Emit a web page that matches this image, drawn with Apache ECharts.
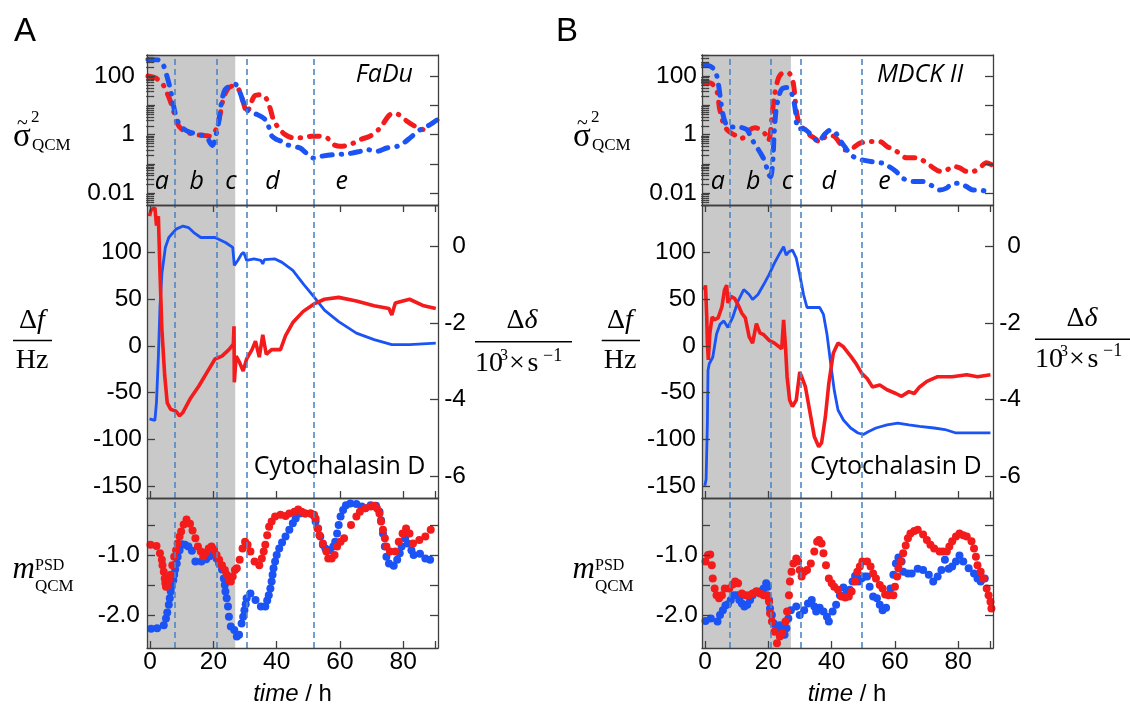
<!DOCTYPE html>
<html>
<head>
<meta charset="utf-8">
<script src="https://cdn.jsdelivr.net/npm/echarts@6/dist/echarts.min.js"></script>
<style>
  html, body { margin: 0; padding: 0; background: #fff; }
  #chart { width: 1130px; height: 711px; }
</style>
</head>
<body>
<div id="chart"></div>
<script>
// ---- shared ticks ----
const timeTicks = [0, 20, 40, 60, 80];
const timeTickMarks = [0, 20, 40, 60, 80, 90];
const phaseLetters = ['a', 'b', 'c', 'd', 'e'];
const varTickExp = [-2, -1, 0, 1, 2];      // decades on the variance axis
const varLabelExp = [-2, 0, 2];
const dfTicks = [-150, -100, -50, 0, 50, 100];
const ddTicks = [-6, -4, -2, 0];
const psdTicks = [-2, -1.5, -1, -0.5];
const psdLabels = [-2, -1];

// ---- FaDu (panel A) ----
const fadu_treatEnd = 26.9;
const fadu_phaseBounds = [7.7, 21.0, 30.4, 51.8];
// normalised variance, [time h, value]
const fadu_varBlue = [[-0.7,372],[2.7,355],[4.3,219],[5.3,100],[6.4,34.7],[7.2,12.3],[8.0,4.9],[9.0,2.51],[10.6,1.58],[12.7,1.20],[15.9,1.00],[18.0,0.78],[19.0,0.52],[19.7,0.43],[20.6,0.78],[21.6,2.51],[22.7,15.8],[23.7,34.7],[25.3,45.7],[26.9,52.5],[28.0,34.7],[29.0,18.2],[30.1,8.3],[31.1,6.3],[33.8,4.9],[36.4,3.3],[37.4,1.95],[38.5,0.89],[40.1,0.68],[41.6,0.59],[43.2,0.46],[45.3,0.40],[47.4,0.35],[49.5,0.23],[51.6,0.16],[53.7,0.18],[58.0,0.21],[62.2,0.22],[66.4,0.27],[68.5,0.31],[71.6,0.27],[74.8,0.35],[78.0,0.40],[80.1,0.52],[82.2,0.78],[85.4,1.48],[88.5,2.19],[90.8,3.24]];
const fadu_varRed = [[-0.7,100],[1.6,87],[3.7,59],[5.3,27],[6.4,13.8],[7.4,6.3],[8.5,2.51],[10.1,1.48],[12.2,1.15],[14.8,1.00],[17.4,0.93],[19.0,0.89],[20.1,1.15],[21.1,1.70],[22.2,5.5],[23.2,18.2],[24.8,39.8],[26.4,45.7],[28.0,34.7],[29.0,18.2],[29.8,9.3],[30.6,5.5],[31.7,10.7],[33.2,21.9],[35.3,23.4],[36.9,15.8],[37.9,8.1],[39.0,3.24],[40.6,1.70],[42.7,1.00],[45.3,0.78],[48.5,0.78],[51.1,0.89],[53.2,0.89],[55.9,0.78],[58.0,0.46],[60.1,0.40],[63.2,0.46],[66.4,0.68],[69.5,0.89],[72.7,1.70],[75.3,4.27],[76.9,5.5],[78.5,4.9],[81.2,2.88],[83.7,1.95],[86.4,1.48],[89.0,1.38]];
// frequency shift (Hz) and dissipation shift (10^3 s^-1)
const fadu_dfRed = [[-0.2,139],[0.3,146],[1.5,148],[2.0,129],[2.6,139],[3.1,79],[3.7,18],[4.6,-32],[5.4,-61],[6.5,-68],[8.2,-70],[9.3,-75],[10.4,-71],[12.6,-57],[15.4,-43],[18.2,-27],[20.5,-14],[22.7,-11],[24.9,-4],[26.3,2],[26.5,21],[26.6,-39],[27.2,-11],[28.3,-18],[29.4,-27],[30.5,-14],[32.2,-4],[33.3,5],[34.5,-12],[35.6,12],[36.7,-9],[38.4,-4],[41.2,-4],[42.8,11],[45.1,25],[48.4,37],[51.8,45],[55.1,50],[59.6,52],[65.2,48],[70.8,43],[75.5,40],[76.4,33],[77.5,46],[82.0,50],[86.5,43],[90.3,40]];
const fadu_ddBlue = [[-0.2,-4.50],[1.5,-4.54],[2.0,-4.07],[2.6,-2.86],[3.1,-1.57],[3.7,-0.71],[4.8,-0.02],[5.9,0.24],[8.2,0.46],[10.4,0.54],[12.1,0.50],[13.8,0.37],[16.0,0.24],[20.5,0.24],[23.8,0.11],[26.1,-0.02],[26.6,-0.49],[27.7,-0.36],[28.9,-0.19],[29.6,-0.15],[30.5,-0.36],[32.8,-0.32],[35.0,-0.36],[35.6,-0.45],[36.1,-0.34],[39.5,-0.32],[41.7,-0.41],[45.1,-0.62],[48.4,-0.97],[51.8,-1.31],[55.1,-1.66],[59.6,-1.96],[65.2,-2.26],[70.8,-2.43],[76.4,-2.56],[82.0,-2.56],[90.3,-2.52]];
// PSD slope
const fadu_psdBlue = [[0.3,-2.23],[2.2,-2.22],[4.3,-2.17],[5.0,-2.06],[5.4,-1.96],[5.9,-1.83],[6.2,-1.72],[6.5,-1.61],[6.8,-1.52],[7.3,-1.42],[7.6,-1.33],[7.9,-1.24],[8.4,-1.14],[8.7,-1.03],[9.3,-0.92],[10.1,-0.82],[11.0,-0.83],[12.1,-0.86],[13.2,-0.93],[14.3,-1.11],[16.2,-1.11],[17.7,-1.07],[18.8,-1.02],[19.9,-0.94],[21.0,-1.06],[21.8,-1.14],[22.7,-1.24],[23.3,-1.39],[23.6,-1.50],[23.8,-1.61],[24.2,-1.72],[24.6,-1.86],[24.9,-2.03],[25.5,-2.19],[26.6,-2.25],[27.4,-2.36],[28.1,-2.33],[28.9,-2.14],[29.4,-2.03],[29.8,-1.92],[30.2,-1.82],[30.5,-1.72],[31.7,-1.64],[33.3,-1.75],[35.0,-1.86],[36.4,-1.86],[37.0,-1.76],[37.5,-1.67],[38.0,-1.56],[38.4,-1.44],[38.7,-1.33],[39.0,-1.22],[39.5,-1.11],[40.0,-1.00],[40.8,-0.89],[41.7,-0.79],[42.8,-0.69],[44.0,-0.58],[45.1,-0.47],[46.0,-0.39],[47.3,-0.31],[49.0,-0.31],[50.7,-0.31],[51.8,-0.35],[52.3,-0.44],[53.1,-0.56],[53.8,-0.69],[54.6,-0.83],[55.4,-0.89],[56.8,-0.92],[57.9,-0.86],[58.5,-0.78],[59.1,-0.64],[59.6,-0.50],[60.2,-0.36],[61.0,-0.25],[61.9,-0.17],[63.3,-0.14],[65.2,-0.15],[66.9,-0.19],[68.0,-0.22],[69.7,-0.17],[71.4,-0.18],[72.5,-0.28],[73.0,-0.42],[73.6,-0.64],[74.2,-0.86],[74.7,-1.03],[75.5,-1.14],[77.0,-1.18],[78.1,-1.08],[78.9,-0.97],[79.5,-0.86],[80.6,-0.72],[81.4,-0.81],[82.6,-0.92],[83.3,-1.00],[85.3,-0.98],[87.0,-1.06],[88.5,-1.08]];
const fadu_psdRed = [[0.1,-0.83],[2.0,-0.85],[3.1,-0.97],[3.7,-1.08],[3.9,-1.17],[4.3,-1.28],[4.6,-1.39],[4.8,-1.47],[5.0,-1.53],[5.4,-1.52],[5.9,-1.42],[6.5,-1.33],[7.0,-1.17],[7.6,-1.03],[8.2,-0.92],[8.7,-0.81],[9.3,-0.69],[9.8,-0.61],[10.6,-0.49],[11.5,-0.41],[12.6,-0.48],[13.4,-0.59],[14.3,-0.72],[15.1,-0.86],[16.0,-0.94],[16.8,-1.02],[17.7,-0.96],[18.5,-0.89],[19.4,-0.86],[20.2,-0.91],[21.0,-1.00],[21.8,-1.08],[22.7,-1.17],[23.6,-1.25],[24.2,-1.33],[24.9,-1.42],[25.5,-1.44],[26.1,-1.36],[26.8,-1.25],[27.4,-1.22],[28.3,-1.08],[29.2,-0.89],[30.0,-0.78],[30.8,-0.83],[31.7,-0.94],[33.0,-1.11],[34.5,-1.17],[35.3,-1.06],[35.9,-0.94],[36.4,-0.83],[37.0,-0.67],[37.6,-0.53],[38.4,-0.44],[39.5,-0.36],[41.2,-0.33],[42.8,-0.35],[44.0,-0.31],[45.6,-0.28],[46.8,-0.24],[47.9,-0.28],[49.0,-0.31],[50.7,-0.31],[51.8,-0.33],[52.3,-0.39],[52.9,-0.56],[53.5,-0.67],[54.6,-0.81],[55.7,-0.94],[56.3,-1.06],[57.4,-1.06],[58.3,-1.00],[59.1,-0.86],[60.2,-0.78],[61.3,-0.72],[63.5,-0.50],[65.2,-0.36],[66.3,-0.28],[68.0,-0.22],[69.7,-0.19],[70.8,-0.18],[71.7,-0.22],[72.5,-0.31],[73.0,-0.44],[73.6,-0.58],[74.2,-0.72],[74.7,-0.86],[75.8,-0.94],[77.5,-0.94],[78.6,-0.78],[79.8,-0.64],[80.9,-0.56],[82.0,-0.64],[83.1,-0.81],[85.1,-0.75],[87.0,-0.69],[88.7,-0.58]];

// ---- MDCK II (panel B) ----
const mdck_treatEnd = 27.1;
const mdck_phaseBounds = [7.7, 20.8, 30.3, 49.5];
const mdck_varBlue = [[-0.5,245],[1.6,219],[3.2,148],[4.2,52],[4.9,14.5],[5.6,5.1],[6.3,2.7],[7.4,1.82],[9.5,1.82],[11.6,1.74],[13.2,1.48],[14.2,0.95],[15.3,0.56],[16.3,0.38],[17.9,0.20],[18.9,0.12],[19.5,0.071],[20.1,0.043],[20.7,0.037],[21.4,0.135],[21.8,1.07],[22.4,6.6],[23.2,18.6],[24.2,35.5],[25.8,40.7],[26.8,35.5],[27.9,16.2],[28.6,5.8],[28.9,2.34],[29.5,1.58],[31.1,1.58],[32.6,1.23],[34.2,0.83],[35.8,0.56],[36.8,0.74],[37.9,1.07],[39.5,1.41],[41.1,1.23],[42.6,0.65],[44.2,0.38],[45.8,0.22],[47.9,0.155],[50.0,0.135],[53.2,0.117],[56.3,0.105],[58.4,0.079],[60.5,0.054],[62.6,0.032],[65.8,0.025],[68.9,0.025],[72.1,0.017],[74.2,0.013],[76.3,0.015],[78.4,0.022],[80.5,0.022],[82.6,0.017],[84.7,0.013],[86.8,0.013],[88.9,0.0115],[90.5,0.010]];
const mdck_varRed = [[-0.5,60],[2.1,55],[3.7,31],[4.5,8.5],[5.3,3.5],[6.3,1.78],[7.9,1.20],[9.5,0.95],[11.1,0.74],[12.6,0.85],[14.2,1.48],[15.8,1.74],[17.4,1.48],[18.9,1.07],[20.0,0.63],[20.5,0.93],[21.1,3.8],[21.8,18.2],[23.2,87],[24.7,129],[26.3,129],[27.7,68],[28.4,18.2],[28.9,5.8],[29.8,2.29],[31.1,1.58],[33.2,0.95],[34.7,0.74],[36.3,0.56],[37.9,0.83],[39.5,0.95],[41.1,0.83],[42.6,0.50],[44.2,0.30],[45.8,0.30],[47.4,0.40],[48.9,0.51],[52.1,0.58],[55.3,0.58],[57.4,0.40],[60.5,0.27],[63.7,0.162],[66.8,0.162],[70.0,0.11],[72.1,0.074],[74.2,0.056],[76.3,0.062],[78.4,0.083],[80.5,0.074],[82.6,0.056],[84.7,0.056],[86.8,0.074],[88.9,0.11],[90.5,0.095]];
const mdck_dfRed = [[-0.2,60],[0.1,65],[0.5,31],[0.7,3],[1.0,-15],[1.5,14],[2.2,31],[3.0,28],[4.1,30],[5.3,42],[6.1,60],[6.8,65],[7.2,46],[8.1,53],[9.3,51],[10.4,44],[11.6,35],[12.7,30],[13.9,10],[15.0,3],[16.2,24],[17.3,14],[18.5,12],[20.2,6],[21.9,3],[24.2,-3],[24.8,28],[25.4,-1],[25.9,-33],[26.7,-58],[27.6,-65],[28.8,-58],[29.9,-28],[30.5,-33],[31.7,-44],[33.4,-76],[34.5,-97],[35.9,-108],[36.8,-104],[38.0,-76],[39.1,-40],[40.5,-8],[42.0,3],[43.7,-1],[46.0,-11],[47.7,-19],[49.4,-29],[51.2,-35],[52.9,-44],[55.2,-42],[57.5,-47],[60.3,-51],[62.1,-54],[64.4,-49],[66.1,-51],[67.8,-44],[70.1,-38],[73.5,-33],[78.1,-33],[82.7,-31],[86.1,-33],[90.2,-31]];
const mdck_ddBlue = [[-0.1,-6.25],[0.3,-6.08],[0.7,-4.61],[0.9,-3.23],[1.3,-3.06],[1.8,-3.10],[2.4,-2.89],[3.6,-2.28],[4.7,-2.03],[5.9,-1.94],[7.2,-2.11],[8.7,-1.85],[10.4,-1.42],[12.2,-1.12],[13.9,-1.25],[15.0,-1.38],[16.7,-1.25],[18.5,-0.99],[20.2,-0.73],[21.9,-0.43],[23.6,-0.17],[24.8,0.00],[25.6,-0.22],[26.5,-0.13],[27.6,-0.09],[28.8,-0.30],[29.9,-0.73],[31.1,-1.25],[32.2,-1.59],[34.5,-1.59],[36.2,-1.59],[37.4,-1.77],[38.5,-2.28],[39.7,-3.06],[40.8,-3.75],[42.0,-4.27],[43.7,-4.53],[46.0,-4.74],[48.3,-4.87],[50.0,-4.91],[51.7,-4.83],[54.0,-4.74],[57.5,-4.66],[60.9,-4.61],[64.4,-4.66],[67.8,-4.70],[72.4,-4.74],[75.8,-4.78],[79.3,-4.87],[83.8,-4.87],[90.2,-4.87]];
const mdck_psdBlue = [[0.1,-2.10],[1.8,-2.06],[3.9,-2.11],[4.7,-2.00],[5.6,-1.92],[6.4,-1.84],[7.2,-1.82],[8.1,-1.75],[9.1,-1.67],[10.1,-1.67],[10.8,-1.75],[11.6,-1.81],[12.4,-1.86],[13.3,-1.83],[14.2,-1.75],[15.0,-1.67],[16.2,-1.61],[17.3,-1.61],[18.5,-1.56],[19.3,-1.47],[19.8,-1.53],[20.2,-1.75],[20.5,-1.89],[21.1,-2.00],[21.7,-2.14],[22.5,-2.22],[23.6,-2.17],[24.2,-2.25],[25.1,-2.33],[25.7,-2.22],[26.3,-2.06],[27.1,-1.92],[28.8,-1.86],[29.9,-2.00],[31.3,-1.92],[32.5,-1.81],[33.7,-1.75],[34.5,-1.86],[35.1,-1.94],[36.2,-1.88],[37.4,-1.94],[38.5,-2.03],[39.1,-2.11],[40.3,-1.94],[41.4,-1.83],[42.6,-1.67],[43.7,-1.54],[44.8,-1.61],[45.7,-1.58],[46.6,-1.44],[47.4,-1.35],[48.5,-1.44],[49.4,-1.39],[50.4,-1.36],[51.2,-1.36],[52.0,-1.53],[53.1,-1.69],[54.3,-1.72],[55.2,-1.83],[56.1,-1.92],[57.2,-1.88],[58.6,-1.56],[59.5,-1.33],[60.3,-1.14],[61.1,-1.04],[62.1,-1.11],[62.6,-1.28],[64.1,-1.31],[65.3,-1.31],[67.2,-1.23],[68.9,-1.25],[70.7,-1.33],[72.1,-1.44],[73.5,-1.36],[74.7,-1.25],[75.8,-1.08],[77.0,-1.23],[78.1,-1.19],[79.3,-1.11],[80.4,-1.01],[81.6,-1.11],[83.3,-1.22],[85.0,-1.31],[86.1,-1.39],[87.1,-1.44],[88.4,-1.39]];
const mdck_psdRed = [[0.1,-1.11],[0.9,-1.00],[1.6,-0.99],[2.1,-1.17],[2.4,-1.39],[3.0,-1.56],[3.6,-1.67],[4.4,-1.72],[5.3,-1.67],[6.2,-1.56],[7.6,-1.56],[8.7,-1.49],[9.5,-1.44],[10.4,-1.47],[11.6,-1.64],[12.7,-1.67],[13.9,-1.67],[15.0,-1.64],[16.2,-1.61],[17.3,-1.64],[18.5,-1.67],[19.6,-1.67],[20.2,-1.78],[20.5,-1.97],[21.1,-2.11],[21.9,-2.28],[22.7,-2.47],[23.6,-2.36],[24.4,-2.30],[25.4,-2.11],[25.9,-1.94],[26.5,-1.67],[26.8,-1.44],[27.3,-1.28],[27.9,-1.14],[28.8,-1.06],[29.4,-1.11],[29.9,-1.25],[30.5,-1.36],[31.3,-1.28],[32.2,-1.25],[33.4,-1.14],[34.5,-0.94],[35.4,-0.78],[36.0,-0.75],[36.8,-0.81],[37.4,-0.97],[38.2,-1.17],[39.1,-1.39],[40.0,-1.47],[40.8,-1.53],[42.0,-1.58],[43.1,-1.69],[44.3,-1.71],[45.4,-1.69],[46.3,-1.61],[47.4,-1.44],[48.1,-1.28],[48.9,-1.19],[49.7,-1.11],[51.2,-1.11],[52.3,-1.19],[53.1,-1.31],[54.0,-1.39],[55.2,-1.50],[56.1,-1.56],[56.9,-1.66],[58.0,-1.67],[59.5,-1.67],[60.0,-1.53],[60.7,-1.36],[61.1,-1.22],[61.8,-1.11],[62.6,-0.97],[63.4,-0.84],[64.1,-0.72],[64.9,-0.64],[66.1,-0.60],[67.2,-0.58],[68.9,-0.66],[70.1,-0.75],[71.2,-0.83],[72.4,-0.89],[74.1,-0.94],[75.2,-0.94],[76.4,-0.94],[77.2,-0.86],[78.1,-0.77],[79.3,-0.69],[80.4,-0.64],[81.6,-0.67],[82.7,-0.69],[84.2,-0.77],[85.0,-0.89],[85.6,-1.03],[86.1,-1.17],[87.1,-1.28],[87.9,-1.39],[89.0,-1.56],[89.6,-1.67],[90.2,-1.78],[90.5,-1.89]];

// ---- styling ----
const RED = '#f31b1b';
const BLUE = '#1b53f5';
const AXIS = '#3f3f3f';
const DASH = '#4f86c6';
const SHADE = '#c9c9c9';
const SANS = '"Liberation Sans", Arial, sans-serif';
const SERIF = '"Liberation Serif", "Times New Roman", serif';
const OPEN = '"Open Sans", "Noto Sans", sans-serif';

const X_MIN = -1, X_MAX = 91;
const LOG_MIN = -2.4, LOG_MAX = 2.72;
const DF_MIN = -163, DF_MAX = 151;
const DD_MIN = -6.57, DD_MAX = 1.09;
const PSD_MIN = -2.55, PSD_MAX = -0.05;

// minor log ticks: 2..9 within each decade
const logMinor = [];
for (let d = -3; d <= 2; d++) {
  for (let k = 2; k <= 9; k++) {
    const e = d + Math.log10(k);
    if (e > LOG_MIN && e < LOG_MAX) logMinor.push(e);
  }
}

const panels = [
  { left: 147, width: 291, varRed: fadu_varRed, varBlue: fadu_varBlue, df: fadu_dfRed, dd: fadu_ddBlue,
    psdRed: fadu_psdRed, psdBlue: fadu_psdBlue, bounds: fadu_phaseBounds, treatEnd: fadu_treatEnd,
    margins: [12, 5, 7] },
  { left: 702, width: 291, varRed: mdck_varRed, varBlue: mdck_varBlue, df: mdck_dfRed, dd: mdck_ddBlue,
    psdRed: mdck_psdRed, psdBlue: mdck_psdBlue, bounds: mdck_phaseBounds, treatEnd: mdck_treatEnd,
    margins: [5, 6, 4] }
];
const rows = [
  { top: 55, height: 150 },
  { top: 205, height: 293 },
  { top: 498, height: 150 }
];

const lineAx = { show: true, onZero: false, lineStyle: { color: AXIS, width: 1.3 } };
const tickStyle = { color: AXIS, width: 1.3 };
const labelFont = { fontFamily: SANS, fontSize: 24.5, color: '#000' };

const grid = [], xAxis = [], yAxis = [], series = [];

function yAx(gi, pos, min, max, ticks, tickLen, labels, extra) {
  yAxis.push(Object.assign({
    type: 'value', gridIndex: gi, position: pos, min, max, z: 5,
    axisLine: lineAx,
    axisTick: { show: ticks.length > 0, inside: true, length: tickLen, customValues: ticks, lineStyle: tickStyle },
    axisLabel: labels ? Object.assign({ customValues: labels.values }, labelFont, labels.opts) : { show: false },
    splitLine: { show: false }
  }, extra || {}));
  return yAxis.length - 1;
}

panels.forEach((p) => {
  rows.forEach((r, ri) => {
    const gi = grid.length;
    grid.push({ left: p.left, top: r.top, width: p.width, height: r.height });
    const xb = xAxis.length;
    xAxis.push({
      type: 'value', gridIndex: gi, position: 'bottom', min: X_MIN, max: X_MAX, z: 5,
      axisLine: lineAx,
      axisTick: { show: ri > 0, inside: true, length: 7, customValues: timeTickMarks, lineStyle: tickStyle },
      axisLabel: ri === 2 ? Object.assign({ customValues: timeTicks, margin: 2 }, labelFont) : { show: false },
      splitLine: { show: false }
    });
    xAxis.push({
      type: 'value', gridIndex: gi, position: 'top', min: X_MIN, max: X_MAX, z: 5,
      axisLine: lineAx,
      axisTick: { show: ri === 1, inside: true, length: 7, customValues: timeTickMarks, lineStyle: tickStyle },
      axisLabel: { show: false }, splitLine: { show: false }
    });

    let yMain;
    if (ri === 0) {
      yMain = yAx(gi, 'left', LOG_MIN, LOG_MAX, varTickExp, 8, {
        values: varLabelExp,
        opts: { margin: p.margins[0], formatter: v => String(Number(Math.pow(10, v).toPrecision(1))) }
      });
      yAx(gi, 'right', LOG_MIN, LOG_MAX, varTickExp, 8, null);
      yAx(gi, 'left', LOG_MIN, LOG_MAX, logMinor, 4, null, { axisLine: { show: false } });
      yAx(gi, 'right', LOG_MIN, LOG_MAX, logMinor, 4, null, { axisLine: { show: false } });
      const toLog = d => d.map(([t, v]) => [t, Math.log10(v)]);
      const dashDot = c => ({ color: c, width: 5, type: [10, 9, 0.5, 9], cap: 'round', join: 'round' });
      series.push({ type: 'line', xAxisIndex: xb, yAxisIndex: yMain, data: toLog(p.varRed), showSymbol: false,
        smooth: 0.3, lineStyle: dashDot(RED), z: 3, silent: true });
      series.push({ type: 'line', xAxisIndex: xb, yAxisIndex: yMain, data: toLog(p.varBlue), showSymbol: false,
        smooth: 0.3, lineStyle: dashDot(BLUE), z: 3, silent: true });
    } else if (ri === 1) {
      yMain = yAx(gi, 'left', DF_MIN, DF_MAX, dfTicks, 8, { values: dfTicks, opts: { margin: p.margins[1] } });
      const yRight = yAx(gi, 'right', DD_MIN, DD_MAX, ddTicks, 8,
        { values: ddTicks, opts: { margin: 28, align: 'right' } });
      series.push({ type: 'line', xAxisIndex: xb, yAxisIndex: yRight, data: p.dd, showSymbol: false,
        lineStyle: { color: BLUE, width: 2.8 }, z: 3, silent: true });
      series.push({ type: 'line', xAxisIndex: xb, yAxisIndex: yMain, data: p.df, showSymbol: false,
        lineStyle: { color: RED, width: 3.6 }, z: 3, silent: true });
    } else {
      yMain = yAx(gi, 'left', PSD_MIN, PSD_MAX, psdTicks, 8, {
        values: psdLabels, opts: { margin: p.margins[2], formatter: v => v.toFixed(1) }
      });
      yAx(gi, 'right', PSD_MIN, PSD_MAX, psdTicks, 8, null);
      series.push({ type: 'scatter', xAxisIndex: xb, yAxisIndex: yMain, data: p.psdBlue, symbolSize: 8,
        itemStyle: { color: BLUE, opacity: 1 }, z: 3, silent: true });
      series.push({ type: 'scatter', xAxisIndex: xb, yAxisIndex: yMain, data: p.psdRed, symbolSize: 8,
        itemStyle: { color: RED, opacity: 1 }, z: 3, silent: true });
    }

    // treatment window and phase boundaries
    series.push({
      type: 'line', xAxisIndex: xb, yAxisIndex: yMain, data: [], z: 1, silent: true,
      markArea: { silent: true, itemStyle: { color: SHADE }, data: [[{ xAxis: X_MIN }, { xAxis: p.treatEnd }]] },
      markLine: {
        silent: true, symbol: ['none', 'none'], label: { show: false }, animation: false,
        lineStyle: { color: DASH, width: 1.6, type: [6, 4] },
        data: p.bounds.map(b => ({ xAxis: b }))
      }
    });
  });
});

// ---- text annotations ----
const G = [];
function text(x, y, str, font, align, extra) {
  G.push({ type: 'text', z: 100, silent: true,
    style: Object.assign({ x, y, text: str, font, fill: '#000', align: align || 'left', verticalAlign: 'middle' }, extra || {}) });
}
function bar(x1, x2, y) {
  G.push({ type: 'line', z: 100, silent: true, shape: { x1, y1: y, x2, y2: y }, style: { stroke: '#000', lineWidth: 1.4 } });
}

const panelText = [
  { dx: 0, tag: 'A', tagX: 25, cell: 'FaDu', cellX: 413, letters: [161.7, 196.7, 230.8, 272.5, 341.7],
    drugX: 425.5, timeX: 292.5, dfX: 32, dfBar: [13, 52], ddX: 522, ddBar: [475, 572], ddNum: 321, ddDen: 364, ddBarY: 341.7 },
  { dx: 560, tag: 'B', tagX: 567, cell: 'MDCK II', cellX: 963.3, letters: [717.8, 753.3, 787.5, 828.8, 884.5],
    drugX: 981.7, timeX: 847, dfX: 620, dfBar: [601.7, 640], ddX: 1082, ddBar: [1035, 1130], ddNum: 319, ddDen: 359.5, ddBarY: 339.3 }
];

panelText.forEach(t => {
  text(t.tagX, 32, t.tag, '33px ' + SANS, 'center');
  text(t.cellX, 75.3, t.cell, 'italic 25px ' + OPEN, 'right');
  t.letters.forEach((x, i) => text(x, 182.3, phaseLetters[i], 'italic 25px ' + OPEN, 'center'));
  text(t.drugX, 467.3, 'Cytochalasin D', '25px ' + OPEN, 'right');
  text(t.timeX, 694.6, '{i|time}{n| / h}', '24px ' + SANS, 'center', {
    rich: { i: { font: 'italic 24px ' + SANS, fill: '#000' }, n: { font: '24px ' + SANS, fill: '#000' } }
  });

  // variance label: sigma with tilde, superscript 2, subscript QCM
  text(13 + t.dx, 137, 'σ', '33px ' + SERIF);
  text(22.5 + t.dx, 124, '~', '20px ' + SERIF, 'center');
  text(31 + t.dx, 118, '2', '17px ' + SERIF);
  text(32 + t.dx, 146, 'QCM', '17px ' + SERIF);

  // frequency label
  text(t.dfX, 321, '{n|Δ}{i|f}', '28px ' + SERIF, 'center', {
    rich: { n: { font: '28px ' + SERIF, fill: '#000' }, i: { font: 'italic 28px ' + SERIF, fill: '#000' } }
  });
  bar(t.dfBar[0], t.dfBar[1], 340.5);
  text(t.dfX, 361, 'Hz', '28px ' + SERIF, 'center');

  // dissipation label
  text(t.ddX, t.ddNum, '{n|Δ}{i|δ}', '28px ' + SERIF, 'center', {
    rich: { n: { font: '28px ' + SERIF, fill: '#000' }, i: { font: 'italic 28px ' + SERIF, fill: '#000' } }
  });
  bar(t.ddBar[0], t.ddBar[1], t.ddBarY);
  const x0 = t.ddBar[0];
  text(x0, t.ddDen, '10', '28px ' + SERIF);
  text(x0 + 25, t.ddDen - 8, '3', '16px ' + SERIF);
  text(x0 + 34, t.ddDen, '×', '28px ' + SERIF);
  text(x0 + 52.5, t.ddDen, 's', '28px ' + SERIF);
  text(x0 + 68, t.ddDen - 8, '\u22121', '18px ' + SERIF);

  // PSD slope label
  text(12.5 + t.dx, 569.5, 'm', 'italic 31px ' + SERIF);
  text(35 + t.dx, 566, 'PSD', '16px ' + SERIF);
  text(35 + t.dx, 587, 'QCM', '17px ' + SERIF);
});

const chart = echarts.init(document.getElementById('chart'), null, { renderer: 'canvas' });
chart.setOption({
  backgroundColor: '#fff',
  animation: false,
  grid, xAxis, yAxis, series,
  graphic: { elements: G }
});
</script>
</body>
</html>
